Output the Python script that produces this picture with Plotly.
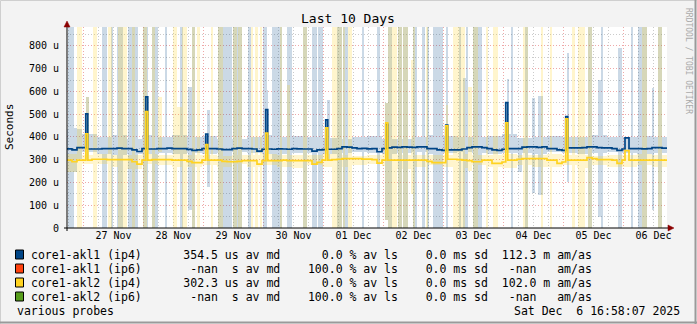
import pandas as pd
import plotly.graph_objects as go

# ---------------- data ----------------
START = pd.Timestamp("2025-11-26 17:25")
SPAN_H = 240
Y_MAX = 883

Y_TICKS = [0, 100, 200, 300, 400, 500, 600, 700, 800]
Y_TICK_TEXT = ["0", "100 u", "200 u", "300 u", "400 u", "500 u", "600 u", "700 u", "800 u"]
Y_MINOR = [50, 150, 250, 350, 450, 550, 650, 750, 850]

MEDIAN_BIN_H = 2
BLUE_MEDIAN = [348, 343, 353, 353, 347, 347, 347, 349, 349, 349,
               351, 349, 349, 343, 336, 349, 347, 347, 349, 349,
               351, 349, 349, 349, 345, 341, 343, 349, 349, 349,
               347, 344, 344, 349, 351, 349, 349, 347, 338, 346,
               347, 346, 348, 347, 346, 349, 348, 347, 347, 338,
               343, 344, 346, 346, 349, 356, 355, 352, 349, 350,
               348, 349, 335, 349, 352, 355, 354, 356, 355, 354,
               356, 356, 349, 349, 343, 341, 343, 343, 343, 347,
               353, 356, 356, 353, 349, 343, 341, 346, 349, 349,
               349, 355, 356, 356, 354, 356, 349, 349, 343, 341,
               352, 352, 352, 353, 356, 356, 353, 352, 352, 349,
               341, 347, 349, 349, 349, 348, 349, 353, 353, 351]
YEL_MEDIAN = [298, 291, 298, 298, 298, 302, 302, 302, 300, 300,
              300, 300, 300, 291, 281, 298, 298, 300, 300, 300,
              300, 298, 298, 298, 293, 287, 287, 298, 298, 298,
              298, 293, 291, 291, 293, 296, 296, 296, 281, 296,
              296, 296, 296, 298, 296, 296, 296, 296, 296, 281,
              288, 298, 298, 300, 302, 305, 305, 305, 305, 303,
              303, 300, 285, 298, 298, 298, 298, 298, 298, 298,
              298, 298, 293, 287, 287, 287, 302, 302, 300, 298,
              296, 291, 291, 298, 298, 284, 284, 290, 298, 298,
              302, 305, 305, 305, 305, 305, 298, 298, 284, 290,
              298, 298, 298, 298, 309, 305, 300, 300, 300, 298,
              284, 298, 298, 298, 298, 298, 298, 298, 298, 298]

SPIKE_H = [7.9, 31.9, 55.9, 79.9, 103.9, 127.9, 151.9, 175.9, 199.9, 224.0]
SPIKE_W = [0.8, 0.8, 0.8, 0.8, 0.8, 0.8, 0.8, 0.8, 0.8, 1.6]
BLUE_SPIKE = [501, 576, 413, 520, 475, 455, 452, 551, 489, 396]
YEL_SPIKE = [414, 511, 366, 417, 440, 462, 449, 462, 480, 340]

SMOKE_BIN_H = 6
BLUE_SMOKE_LO = [305, 334, 327, 320, 327, 327, 330, 327, 330, 327, 330, 334, 330, 327, 327, 330, 330, 327, 330, 334,
                 330, 327, 330, 334, 327, 330, 334, 330, 327, 330, 330, 327, 334, 330, 327, 330, 334, 330, 327, 330]
BLUE_SMOKE_HI = [437, 415, 400, 407, 393, 407, 400, 407, 400, 405, 393, 390, 400, 410, 400, 405, 400, 395, 393, 400,
                 405, 393, 390, 398, 410, 405, 398, 400, 405, 412, 395, 400, 405, 398, 400, 410, 400, 398, 405, 400]
YEL_SMOKE_LO = [247, 283, 283, 268, 261, 283, 275, 268, 270, 275, 268, 280, 268, 275, 270, 265, 275, 270, 268, 275,
                280, 272, 260, 268, 275, 270, 262, 275, 270, 265, 275, 268, 270, 275, 265, 275, 270, 268, 275, 270]
YEL_SMOKE_HI = [327, 320, 327, 320, 320, 325, 320, 322, 320, 322, 318, 322, 320, 325, 322, 320, 322, 325, 320, 318,
                322, 325, 320, 322, 320, 322, 325, 320, 322, 325, 320, 322, 325, 322, 320, 318, 322, 320, 325, 322]

BLUE_FULL = [(0.5, 2.7), (13.9, 15.9), (17.9, 18.5), (19.9, 22.5), (24.5, 28.5), (30.5, 32.5), (33.9, 36.4),
             (39.2, 39.9), (45.2, 46.5), (49.9, 51.2), (60.5, 65.9), (66.5, 69.9), (72.5, 73.4), (78.5, 79.9),
             (81.9, 85.9), (87.9, 89.9), (94.5, 95.9), (97.9, 99.9), (100.5, 102.5), (107.9, 109.9),
             (110.5, 112.5), (117.9, 118.8), (123.9, 125.2), (128.5, 129.9), (132.5, 133.9), (134.5, 136.5),
             (138.5, 139.9), (141.9, 143.2), (144.0, 144.5), (146.5, 150.5), (151.9, 152.5), (156.8, 157.6),
             (159.9, 160.5), (162.5, 165.9), (177.9, 178.5), (183.2, 184.5), (208.5, 209.9), (213.9, 214.5),
             (225.9, 226.5), (228.5, 231.9), (236.5, 237.9)]
YEL_FULL = [(3.9, 5.9), (10.5, 11.9), (16.5, 17.9), (20.5, 23.9), (25.9, 27.2), (30.5, 31.9), (33.9, 35.2),
            (42.5, 43.9), (45.9, 47.9), (49.9, 51.2), (51.9, 53.2), (57.9, 58.5), (60.5, 62.5), (66.5, 67.9),
            (68.5, 69.9), (73.4, 74.5), (75.2, 76.5), (77.2, 77.9), (85.2, 85.9), (94.5, 95.9), (105.9, 109.9),
            (110.5, 111.2), (112.5, 113.9), (128.5, 131.9), (132.5, 133.9), (134.5, 136.5), (138.5, 139.2),
            (143.9, 144.5), (154.5, 159.2), (162.5, 164.5), (167.9, 168.5), (170.5, 172.5), (182.5, 184.5),
            (189.9, 190.5), (193.2, 193.9), (201.9, 203.2), (204.5, 207.2), (208.5, 209.9), (229.9, 231.9),
            (236.5, 237.9)]
BLUE_PART = [(2.5, 4.1, 247, 438), (7.6, 8.8, 300, 577), (48.4, 50.4, 79, 621), (56.0, 57.2, 182, 519),
             (79.5, 80.5, 300, 607), (104.0, 105.2, 299, 563), (127.2, 128.4, 35, 549), (158.4, 160.4, 0, 659),
             (176.0, 176.8, 350, 655), (180.4, 182.0, 246, 396), (186.0, 187.2, 154, 571),
             (188.4, 190.4, 145, 580), (200.0, 200.8, 202, 769), (212.4, 214.4, 48, 650),
             (220.4, 222.0, 0, 791), (234.0, 234.8, 79, 615)]
YEL_PART = [(7.6, 8.8, 300, 577), (36.4, 38.0, 336, 577), (43.0, 47.0, 312, 532), (88.0, 89.2, 280, 629),
            (127.2, 128.4, 35, 549), (137.6, 138.5, 150, 738), (151.5, 152.5, 300, 541), (160.4, 162.0, 250, 621)]

SERIES = ["core1-akl1 (ip4)", "core1-akl1 (ip6)", "core1-akl2 (ip4)", "core1-akl2 (ip6)"]
SERIES_COLORS = ["#004586", "#ff420e", "#ffd320", "#579d1c"]
MEDIAN_TXT = ["354.5", "-nan", "302.3", "-nan"]
MEDIAN_UNIT = ["us", "s", "us", "s"]
LOSS_TXT = ["0.0", "100.0", "0.0", "100.0"]
SD_TXT = ["0.0", "0.0", "0.0", "0.0"]
AMAS_TXT = ["112.3", "-nan", "102.0", "-nan"]
AMAS_UNIT = ["m", "", "m", ""]

TITLE = "Last 10 Days"
Y_LABEL = "Seconds"
FOOT_LEFT = "various probes"
FOOT_RIGHT = "Sat Dec  6 16:58:07 2025"
WATERMARK = "RRDTOOL / TOBI OETIKER"

# ---------------- helpers ----------------
W, H = 697, 324
PL, PR, PT, PB = 67, 667, 27, 228
MONO = "DejaVu Sans Mono"


def t(h):
    return START + pd.Timedelta(hours=h)


def X(px):
    return (px - PL) / (PR - PL)


def Y(py):
    return (PB - py) / (PB - PT)


def step_series(vals, bin_h, sp_h, sp_w, sp_v):
    bps = set(i * bin_h for i in range(len(vals)))
    for c, w in zip(sp_h, sp_w):
        bps.add(round(c - w / 2, 3))
        bps.add(round(c + w / 2, 3))
    bps = sorted(bps)
    ys = []
    for h in bps:
        v = vals[min(int(h // bin_h), len(vals) - 1)]
        for c, w, s in zip(sp_h, sp_w, sp_v):
            if round(c - w / 2, 3) <= h < round(c + w / 2, 3):
                v = s
        ys.append(v)
    bps.append(SPAN_H)
    ys.append(ys[-1])
    return [t(h) for h in bps], ys


def smoke_trace(ranges, color, opacity):
    xs, ys, bs, ws = [], [], [], []
    for h0, h1, lo, hi in ranges:
        xs.append(t((h0 + h1) / 2))
        ys.append(hi - lo)
        bs.append(lo)
        ws.append((h1 - h0) * 3600 * 1000)
    return go.Bar(x=xs, y=ys, base=bs, width=ws, marker=dict(color=color, line=dict(width=0)),
                  opacity=opacity, hoverinfo="skip", showlegend=False)


def smoke_ranges(lo_list, hi_list, full, part):
    r = [(i * SMOKE_BIN_H, (i + 1) * SMOKE_BIN_H, lo, hi) for i, (lo, hi) in enumerate(zip(lo_list, hi_list))]
    r += [(a, b, 0, Y_MAX) for a, b in full]
    r += list(part)
    return r


fig = go.Figure()
fig.add_trace(smoke_trace(smoke_ranges(BLUE_SMOKE_LO, BLUE_SMOKE_HI, BLUE_FULL, BLUE_PART), SERIES_COLORS[0], 0.2))
fig.add_trace(smoke_trace(smoke_ranges(YEL_SMOKE_LO, YEL_SMOKE_HI, YEL_FULL, YEL_PART), SERIES_COLORS[2], 0.22))

# median lines
bx, by = step_series(BLUE_MEDIAN, MEDIAN_BIN_H, SPIKE_H, SPIKE_W, BLUE_SPIKE)
fig.add_trace(go.Scatter(x=bx, y=by, mode="lines", line=dict(color=SERIES_COLORS[0], width=1.7, shape="hv"),
                         hoverinfo="skip", showlegend=False))
yx, yy = step_series(YEL_MEDIAN, MEDIAN_BIN_H, SPIKE_H, SPIKE_W, YEL_SPIKE)
fig.add_trace(go.Scatter(x=yx, y=yy, mode="lines", line=dict(color=SERIES_COLORS[2], width=1.7, shape="hv"),
                         hoverinfo="skip", showlegend=False))

MAJOR_GRID = "rgba(226,110,110,0.6)"
MINOR_GRID = "rgba(140,140,140,0.45)"

fig.update_layout(
    width=W, height=H,
    margin=dict(l=PL, r=W - PR, t=PT, b=H - PB, pad=0),
    paper_bgcolor="#f3f3f3", plot_bgcolor="#ffffff",
    barmode="overlay", bargap=0,
    font=dict(family=MONO, size=10, color="#000"),
    xaxis=dict(
        type="date", range=[t(0), t(SPAN_H)],
        tick0="2025-11-27 00:00", dtick=86400000, tickformat="%d %b", ticklabelmode="period",
        showgrid=True, gridcolor=MAJOR_GRID, griddash="1px,2px", gridwidth=1,
        minor=dict(dtick=6 * 3600 * 1000, showgrid=True, gridcolor=MINOR_GRID, griddash="1px,2px", gridwidth=1),
        showline=False, zeroline=False, ticks="", layer="above traces",
        tickfont=dict(family=MONO, size=10, color="#000"),
    ),
    yaxis=dict(
        range=[0, Y_MAX], tickvals=Y_TICKS, ticktext=Y_TICK_TEXT,
        showgrid=True, gridcolor=MAJOR_GRID, griddash="1px,2px", gridwidth=1,
        minor=dict(tickvals=Y_MINOR, showgrid=True, gridcolor=MINOR_GRID, griddash="1px,2px", gridwidth=1),
        showline=False, zeroline=False, ticks="", ticklabelstandoff=7, layer="above traces",
        tickfont=dict(family=MONO, size=10, color="#000"),
    ),
)

shapes = []
# outer frame
shapes.append(dict(type="line", xref="paper", yref="paper", x0=X(0.5), x1=X(696.5), y0=Y(0.5), y1=Y(0.5),
                   line=dict(color="#cfcfcf", width=1)))
shapes.append(dict(type="line", xref="paper", yref="paper", x0=X(0.5), x1=X(0.5), y0=Y(0.5), y1=Y(323.5),
                   line=dict(color="#cfcfcf", width=1)))
shapes.append(dict(type="line", xref="paper", yref="paper", x0=X(0), x1=X(697), y0=Y(322.5), y1=Y(322.5),
                   line=dict(color="#9a9a9a", width=2)))
shapes.append(dict(type="line", xref="paper", yref="paper", x0=X(695.5), x1=X(695.5), y0=Y(0), y1=Y(324),
                   line=dict(color="#9a9a9a", width=2)))
# axes
shapes.append(dict(type="line", xref="paper", yref="paper", x0=X(PL), x1=X(PL), y0=Y(PB + 3), y1=Y(24),
                   line=dict(color="#000", width=1)))
shapes.append(dict(type="line", xref="paper", yref="paper", x0=X(PL - 3), x1=X(670), y0=Y(PB), y1=Y(PB),
                   line=dict(color="#000", width=1)))
AR = "#8b0000"
shapes.append(dict(type="path", xref="paper", yref="paper",
                   path=f"M {X(PL-3)},{Y(27)} L {X(PL)},{Y(21)} L {X(PL+3)},{Y(27)} Z",
                   fillcolor=AR, line=dict(color=AR, width=0.5)))
shapes.append(dict(type="path", xref="paper", yref="paper",
                   path=f"M {X(668)},{Y(PB-3)} L {X(674)},{Y(PB)} L {X(668)},{Y(PB+3)} Z",
                   fillcolor=AR, line=dict(color=AR, width=0.5)))

annotations = []
annotations.append(dict(text=TITLE, xref="paper", yref="paper", x=X(348), y=Y(19), showarrow=False,
                        xanchor="center", yanchor="middle", font=dict(family=MONO, size=13, color="#000")))
annotations.append(dict(text=Y_LABEL, xref="paper", yref="paper", x=X(10), y=Y(127), showarrow=False,
                        textangle=-90, xanchor="center", yanchor="middle",
                        font=dict(family=MONO, size=11, color="#000")))
annotations.append(dict(text=WATERMARK, xref="paper", yref="paper", x=X(688), y=Y(6), showarrow=False,
                        textangle=90, xanchor="center", yanchor="top",
                        font=dict(family=MONO, size=8, color="#aaaaaa")))

NB = "\u00a0"
row_y = [254.5, 268.5, 282.5, 296.5]
for i, name in enumerate(SERIES):
    unit_m = MEDIAN_UNIT[i].rjust(2)
    am = (AMAS_TXT[i].rjust(5) + " " + (AMAS_UNIT[i] if AMAS_UNIT[i] else " ") + " am/as")
    line = (name.ljust(22) + MEDIAN_TXT[i].rjust(5) + " " + unit_m + " av md" + " " * 4 +
            LOSS_TXT[i].rjust(5) + " % av ls" + " " * 4 + SD_TXT[i] + " ms sd" + " " * 2 + am)
    annotations.append(dict(text=line.replace(" ", NB), xref="paper", yref="paper", x=X(30), y=Y(row_y[i]),
                            showarrow=False, xanchor="left", yanchor="middle", borderpad=0,
                            font=dict(family=MONO, size=11.5, color="#000")))
    shapes.append(dict(type="rect", xref="paper", yref="paper", x0=X(15.5), x1=X(23.5),
                       y0=Y(row_y[i] - 4.5), y1=Y(row_y[i] + 4.5),
                       fillcolor=SERIES_COLORS[i], line=dict(color="#000", width=1)))

annotations.append(dict(text=FOOT_LEFT.replace(" ", NB), xref="paper", yref="paper", x=X(16), y=Y(310.5),
                        showarrow=False, xanchor="left", yanchor="middle", borderpad=0,
                        font=dict(family=MONO, size=11.5, color="#000")))
annotations.append(dict(text=FOOT_RIGHT.replace(" ", NB), xref="paper", yref="paper", x=X(681), y=Y(310.5),
                        showarrow=False, xanchor="right", yanchor="middle", borderpad=0,
                        font=dict(family=MONO, size=11.5, color="#000")))

fig.update_layout(shapes=shapes, annotations=annotations)
fig.write_html("out.html")
